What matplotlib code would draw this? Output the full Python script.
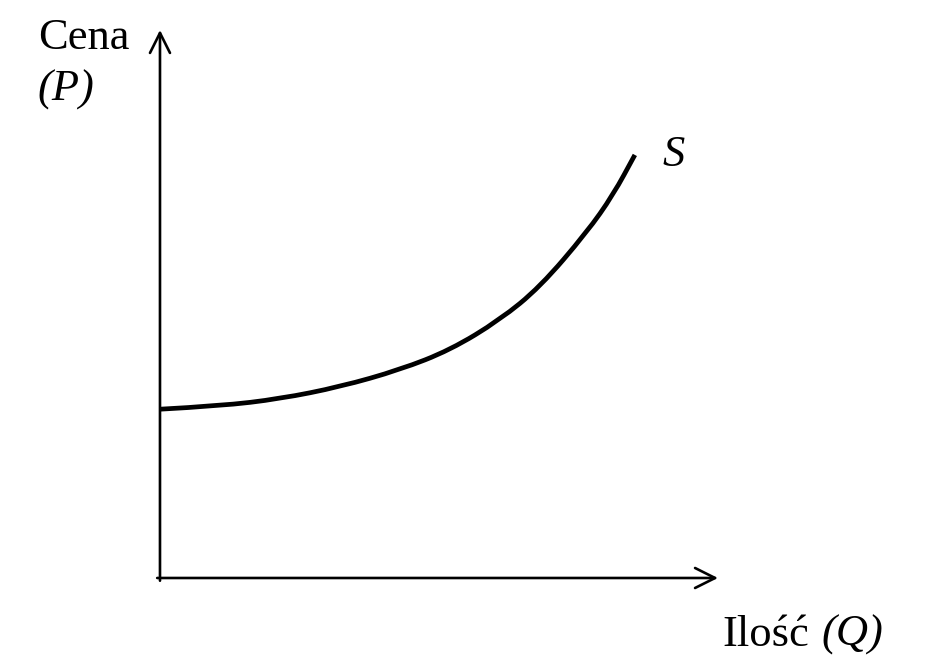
import matplotlib as mpl
mpl.use('Agg')
import matplotlib.pyplot as plt
from matplotlib.path import Path
from matplotlib.patches import PathPatch

# supply curve (Q, P in arbitrary units, axes run 0..10)
quantity = [0.0, 1.08, 2.15, 3.23, 4.30, 5.20, 6.09, 6.81, 7.65, 8.12, 8.51]
price = [3.08, 3.14, 3.27, 3.49, 3.80, 4.16, 4.71, 5.31, 6.31, 6.99, 7.72]
axis_max = 10.0

plt.rcParams['font.family'] = ['Liberation Serif', 'DejaVu Serif']

fig = plt.figure(figsize=(9.3, 6.62), dpi=100)
ax = fig.add_axes([0, 0, 1, 1])
ax.set_xlim(-2.867, 13.799)
ax.set_ylim(-1.533, 10.547)
ax.axis('off')

arrow = dict(arrowstyle='->', lw=1.9, color='black', mutation_scale=36, shrinkA=0, shrinkB=0)
ax.annotate('', xy=(0, axis_max), xytext=(0, -0.05), arrowprops=arrow)
ax.annotate('', xy=(axis_max, 0), xytext=(-0.05, 0), arrowprops=arrow)

# smooth the read points with quadratic bezier segments (points act as controls)
pts = list(zip(quantity, price))
verts = [pts[0]]
codes = [Path.MOVETO]
for i in range(1, len(pts) - 1):
    mid = ((pts[i][0] + pts[i + 1][0]) / 2, (pts[i][1] + pts[i + 1][1]) / 2)
    verts += [pts[i], mid]
    codes += [Path.CURVE3, Path.CURVE3]
verts.append(pts[-1])
codes.append(Path.LINETO)
ax.add_patch(PathPatch(Path(verts, codes), fill=False, lw=3.4, edgecolor='black',
                       capstyle='butt', joinstyle='round'))

ax.text(-2.19, 9.85, 'Cena', fontsize=32, ha='left', va='center')
ax.text(-2.19, 8.9, '(P)', fontsize=32, style='italic', ha='left', va='center')
ax.text(9.0, 7.72, 'S', fontsize=32, style='italic', ha='left', va='center')
ax.text(10.07, -1.04, 'Ilość', fontsize=32, ha='left', va='center')
ax.text(11.86, -1.04, '(Q)', fontsize=32, style='italic', ha='left', va='center')

fig.savefig('out.png', dpi=100, facecolor='white')
